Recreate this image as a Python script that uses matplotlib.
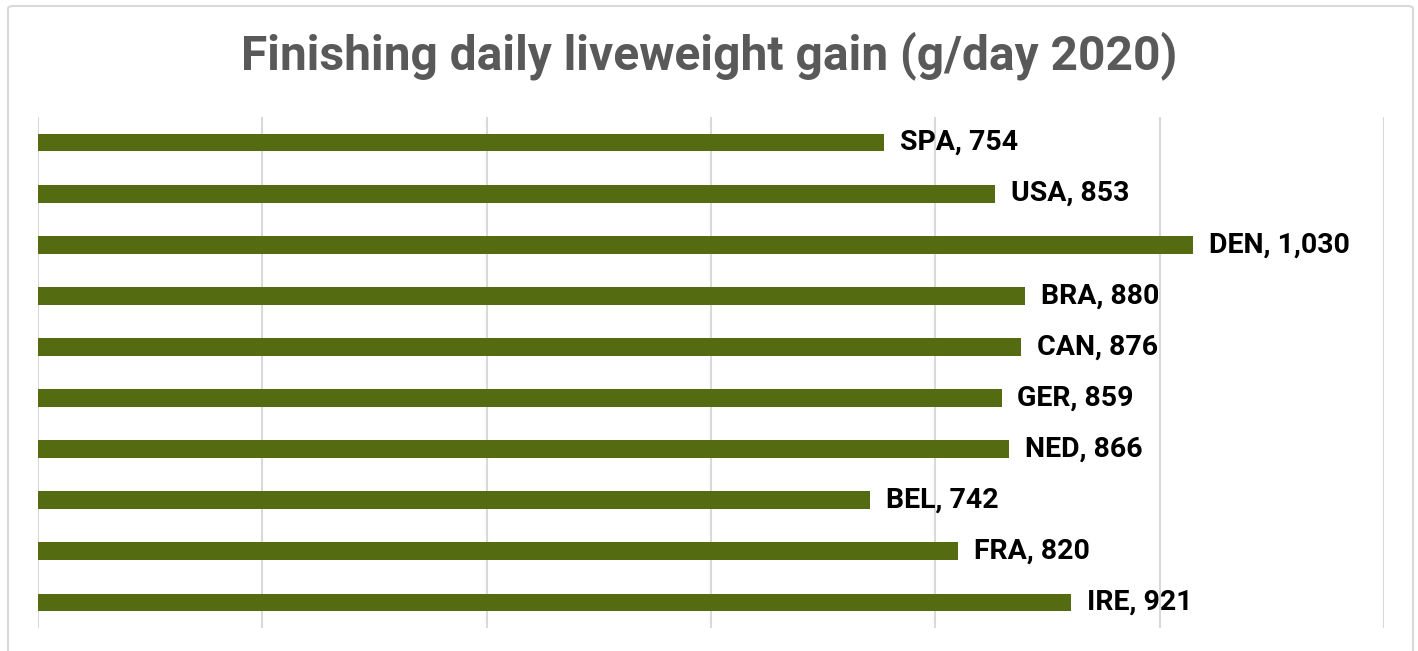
import matplotlib.pyplot as plt
from matplotlib.patches import FancyBboxPatch

# Finishing pigs: average daily liveweight gain by country, 2020
countries = ['SPA', 'USA', 'DEN', 'BRA', 'CAN', 'GER', 'NED', 'BEL', 'FRA', 'IRE']
gain = [754, 853, 1030, 880, 876, 859, 866, 742, 820, 921]

bar_colour = '#556b12'
grid_colour = '#d9d9d9'

W, H = 1418, 651
fig = plt.figure(figsize=(W / 100, H / 100), dpi=100)

# light rounded frame round the whole chart, kept behind the axes
frame = FancyBboxPatch((8 / W, -20 / H), (1413 - 8) / W, (H - 6 + 20) / H,
                       boxstyle='round,pad=0,rounding_size=0.004',
                       transform=fig.transFigure, facecolor='white',
                       edgecolor=grid_colour, linewidth=1.5, zorder=-10)
fig.patches.append(frame)

ax = fig.add_axes([38 / W, (H - 628) / H, (1384 - 38) / W, (628 - 117) / H])
ax.set_facecolor('none')
ax.set_zorder(1)

pos = list(range(len(countries)))
ax.barh(pos, gain, height=0.35, color=bar_colour, zorder=3)

for y, name, v in zip(pos, countries, gain):
    ax.annotate(f'{name}, {v:,}', xy=(v, y), xytext=(11.5, 0),
                textcoords='offset points', va='center', ha='left',
                fontsize=20.5, fontweight='bold', family='Roboto',
                color='black', zorder=4)

ax.set_xlim(0, 1200)
ax.set_ylim(len(countries) - 0.5, -0.5)
ax.set_xticks(range(0, 1201, 200))
ax.set_yticks([])
ax.xaxis.grid(True, color=grid_colour, linewidth=1.5, zorder=0)
ax.tick_params(axis='x', length=0, labelbottom=False)
for s in ax.spines.values():
    s.set_visible(False)

fig.text(0.5, 1 - 56 / H, 'Finishing daily liveweight gain (g/day 2020)',
         ha='center', va='center', fontsize=34.5, fontweight='bold',
         family='Roboto', color='#595959')

fig.savefig('out.png', dpi=100)
